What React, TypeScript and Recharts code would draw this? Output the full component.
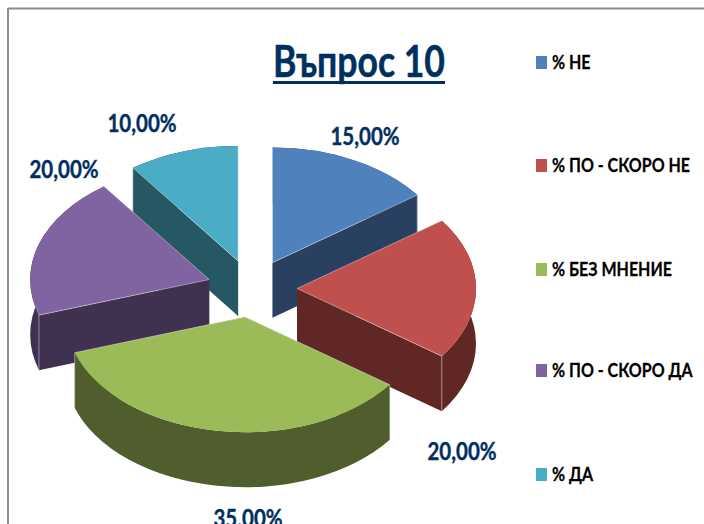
import { Legend, Pie, PieChart } from "recharts";

const categories = ["% НЕ", "% ПО - СКОРО НЕ", "% БЕЗ МНЕНИЕ", "% ПО - СКОРО ДА", "% ДА"];
const shares = [15, 20, 35, 20, 10];
const topColors = ["#4f81bd", "#c0504d", "#9bbb59", "#8064a2", "#4bacc6"];
const wallColors = ["#2a4060", "#602725", "#4f5e2c", "#403151", "#265863"];

// back slices first so the front ones cover their walls
const paintOrder = [4, 0, 3, 1, 2];

const labelOffsets = [
  [113, -153],
  [210, 162],
  [-4, 229],
  [-188, -120],
  [-110, -166],
];

const legendRows = [62, 165, 269, 370, 474];

const WIDTH = 704;
const HEIGHT = 524;
const TILT = 0.643;
const DEPTH = 55;
const EXPLODE = 45;
const NAVY = "#00305f";
const FONT = "Lato, 'Open Sans', sans-serif";

const data = categories.map((name, i) => ({
  name,
  value: shares[i],
  fill: topColors[i],
  wall: wallColors[i],
}));

const rad = (deg: number) => (deg * Math.PI) / 180;

function Slice(props: any) {
  const { cx, cy, outerRadius, startAngle, endAngle, midAngle, fill, wall } = props;
  const ox = cx + EXPLODE * Math.cos(rad(midAngle));
  const oy = cy - EXPLODE * TILT * Math.sin(rad(midAngle));
  const rx = outerRadius;
  const ry = outerRadius * TILT;
  const x1 = ox + rx * Math.cos(rad(startAngle));
  const y1 = oy - ry * Math.sin(rad(startAngle));
  const x2 = ox + rx * Math.cos(rad(endAngle));
  const y2 = oy - ry * Math.sin(rad(endAngle));
  const large = Math.abs(endAngle - startAngle) > 180 ? 1 : 0;

  const top = `M${ox},${oy} L${x1},${y1} A${rx},${ry} 0 ${large} 1 ${x2},${y2} Z`;
  const band =
    `M${x1},${y1} A${rx},${ry} 0 ${large} 1 ${x2},${y2} ` +
    `L${x2},${y2 + DEPTH} A${rx},${ry} 0 ${large} 0 ${x1},${y1 + DEPTH} Z`;
  const cut1 = `M${ox},${oy} L${x1},${y1} L${x1},${y1 + DEPTH} L${ox},${oy + DEPTH} Z`;
  const cut2 = `M${ox},${oy} L${x2},${y2} L${x2},${y2 + DEPTH} L${ox},${oy + DEPTH} Z`;
  const hair = { stroke: "#fff", strokeOpacity: 0.5, strokeWidth: 0.8 };

  return (
    <g>
      <path d={cut1} fill={wall} />
      <path d={cut2} fill={wall} />
      <path d={band} fill={wall} />
      <line x1={x1} y1={y1} x2={x1} y2={y1 + DEPTH} {...hair} />
      <line x1={x2} y1={y2} x2={x2} y2={y2 + DEPTH} {...hair} />
      <path d={top} fill={fill} />
      <line x1={ox} y1={oy} x2={x1} y2={y1} {...hair} />
      <line x1={ox} y1={oy} x2={x2} y2={y2} {...hair} />
    </g>
  );
}

function SliceLabel(props: any) {
  const { cx, cy, index, value } = props;
  const [dx, dy] = labelOffsets[index];
  return (
    <text
      transform={`translate(${cx + dx},${cy + dy}) scale(0.82,1)`}
      textAnchor="middle"
      dominantBaseline="central"
      fill={NAVY}
      stroke={NAVY}
      strokeWidth={0.4}
      fontFamily={FONT}
      fontWeight={700}
      fontSize={25}
    >
      {value.toFixed(2).replace(".", ",")}%
    </text>
  );
}

function KeyList({ payload }: any) {
  const items = (payload ?? []).filter((item: any) => item.type !== "none").slice(0, categories.length);
  return (
    <svg width={170} height={HEIGHT} style={{ display: "block" }}>
      {items.map((item: any, i: number) => (
        <g key={item.value}>
          <rect x={0} y={legendRows[i] - 6} width={11} height={13} fill={item.color} />
          <text
            transform={`translate(16,${legendRows[i]}) scale(0.89,1)`}
            dominantBaseline="central"
            fontFamily={FONT}
            fontWeight={700}
            fontSize={18}
            stroke="#000"
            strokeWidth={0.25}
            fill="#000"
          >
            {item.value}
          </text>
        </g>
      ))}
    </svg>
  );
}

export default function App() {
  return (
    <div style={{ position: "absolute", left: 0, top: 0, width: WIDTH, height: HEIGHT, overflow: "hidden", background: "#fff" }}>
      <PieChart width={WIDTH} height={HEIGHT} margin={{ top: 0, right: 0, bottom: 0, left: 0 }}>
        <line x1={8} y1={8.5} x2={WIDTH} y2={8.5} stroke="#8c8c8c" strokeWidth={2} />
        <line x1={8} y1={8} x2={8} y2={HEIGHT} stroke="#8c8c8c" strokeWidth={2} />
        <text
          x={273}
          y={77}
          fill={NAVY}
          stroke={NAVY}
          strokeWidth={0.5}
          fontFamily={FONT}
          fontWeight={700}
          fontSize={43}
          textLength={172}
          lengthAdjust="spacingAndGlyphs"
        >
          Въпрос 10
        </text>
        <rect x={273} y={81} width={172} height={3} fill={NAVY} />
        {paintOrder.map((slice, pass) => (
          <Pie
            key={slice}
            data={data}
            dataKey="value"
            nameKey="name"
            cx={252}
            cy={288.5}
            innerRadius={0}
            outerRadius={179}
            startAngle={90}
            endAngle={-270}
            stroke="none"
            isAnimationActive={false}
            legendType={pass === 0 ? "square" : "none"}
            labelLine={false}
            label={pass === paintOrder.length - 1 ? SliceLabel : false}
            shape={(p: any) => (p.index === slice ? <Slice {...p} /> : <g />)}
          />
        ))}
        <Legend
          content={KeyList}
          layout="vertical"
          itemSorter={null}
          wrapperStyle={{ position: "absolute", left: 536, top: 0, width: 170, height: HEIGHT }}
        />
      </PieChart>
    </div>
  );
}
